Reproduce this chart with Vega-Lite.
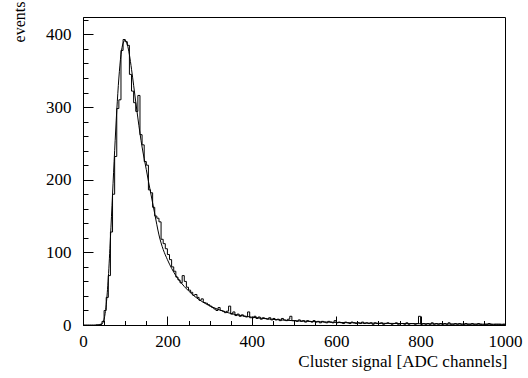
{
  "$schema": "https://vega.github.io/schema/vega-lite/v6.json",
  "width": 422,
  "height": 308,
  "autosize": "none",
  "padding": {"left": 83, "top": 17, "right": 23, "bottom": 53},
  "background": "white",
  "config": {
    "view": {"stroke": "black", "strokeWidth": 1},
    "font": "Liberation Serif",
    "axis": {"labelFont": "Liberation Serif", "titleFont": "Liberation Serif"},
    "style": {"guide-label": {"font": "Liberation Serif"}, "guide-title": {"font": "Liberation Serif"}}
  },
  "datasets": {
    "hist": [
      {"v":0,"n":0},{"v":5,"n":0},{"v":10,"n":0},{"v":15,"n":0},{"v":20,"n":0},{"v":25,"n":0},{"v":30,"n":0},{"v":35,"n":0},
      {"v":40,"n":1},{"v":45,"n":5},{"v":50,"n":20},{"v":55,"n":38},{"v":60,"n":68},{"v":65,"n":128},{"v":70,"n":180},{"v":75,"n":232},
      {"v":80,"n":298},{"v":85,"n":310},{"v":90,"n":378},{"v":95,"n":393},{"v":100,"n":390},{"v":105,"n":385},{"v":110,"n":345},{"v":115,"n":322},
      {"v":120,"n":306},{"v":125,"n":294},{"v":130,"n":316},{"v":135,"n":262},{"v":140,"n":248},{"v":145,"n":225},{"v":150,"n":220},{"v":155,"n":186},
      {"v":160,"n":182},{"v":165,"n":162},{"v":170,"n":150},{"v":175,"n":147},{"v":180,"n":142},{"v":185,"n":118},{"v":190,"n":112},{"v":195,"n":105},
      {"v":200,"n":97},{"v":205,"n":90},{"v":210,"n":80},{"v":215,"n":74},{"v":220,"n":66},{"v":225,"n":62},{"v":230,"n":58},{"v":235,"n":68},
      {"v":240,"n":60},{"v":245,"n":52},{"v":250,"n":48},{"v":255,"n":45},{"v":260,"n":41},{"v":265,"n":42},{"v":270,"n":38},{"v":275,"n":34},
      {"v":280,"n":36},{"v":285,"n":31},{"v":290,"n":30},{"v":295,"n":28},{"v":300,"n":26},{"v":305,"n":24},{"v":310,"n":22},{"v":315,"n":20},
      {"v":320,"n":24},{"v":325,"n":20},{"v":330,"n":19},{"v":335,"n":17},{"v":340,"n":19},{"v":345,"n":26},{"v":350,"n":15},{"v":355,"n":18},
      {"v":360,"n":13},{"v":365,"n":15},{"v":370,"n":12},{"v":375,"n":14},{"v":380,"n":12},{"v":385,"n":11},{"v":390,"n":18},{"v":395,"n":10},
      {"v":400,"n":10},{"v":405,"n":12},{"v":410,"n":9},{"v":415,"n":11},{"v":420,"n":8},{"v":425,"n":10},{"v":430,"n":9},{"v":435,"n":8},
      {"v":440,"n":10},{"v":445,"n":7},{"v":450,"n":9},{"v":455,"n":7},{"v":460,"n":8},{"v":465,"n":6},{"v":470,"n":9},{"v":475,"n":7},
      {"v":480,"n":6},{"v":485,"n":8},{"v":490,"n":12},{"v":495,"n":6},{"v":500,"n":6},{"v":505,"n":5},{"v":510,"n":7},{"v":515,"n":5},
      {"v":520,"n":6},{"v":525,"n":4},{"v":530,"n":6},{"v":535,"n":5},{"v":540,"n":4},{"v":545,"n":6},{"v":550,"n":4},{"v":555,"n":5},
      {"v":560,"n":3},{"v":565,"n":5},{"v":570,"n":4},{"v":575,"n":3},{"v":580,"n":5},{"v":585,"n":4},{"v":590,"n":3},{"v":595,"n":6},
      {"v":600,"n":3},{"v":605,"n":4},{"v":610,"n":3},{"v":615,"n":2},{"v":620,"n":4},{"v":625,"n":3},{"v":630,"n":2},{"v":635,"n":4},
      {"v":640,"n":3},{"v":645,"n":2},{"v":650,"n":3},{"v":655,"n":2},{"v":660,"n":4},{"v":665,"n":2},{"v":670,"n":3},{"v":675,"n":2},
      {"v":680,"n":3},{"v":685,"n":1},{"v":690,"n":3},{"v":695,"n":2},{"v":700,"n":2},{"v":705,"n":3},{"v":710,"n":1},{"v":715,"n":2},
      {"v":720,"n":3},{"v":725,"n":2},{"v":730,"n":1},{"v":735,"n":2},{"v":740,"n":3},{"v":745,"n":1},{"v":750,"n":2},{"v":755,"n":2},
      {"v":760,"n":1},{"v":765,"n":3},{"v":770,"n":1},{"v":775,"n":2},{"v":780,"n":2},{"v":785,"n":1},{"v":790,"n":2},{"v":795,"n":12},
      {"v":800,"n":1},{"v":805,"n":2},{"v":810,"n":1},{"v":815,"n":2},{"v":820,"n":1},{"v":825,"n":3},{"v":830,"n":1},{"v":835,"n":2},
      {"v":840,"n":1},{"v":845,"n":2},{"v":850,"n":1},{"v":855,"n":2},{"v":860,"n":1},{"v":865,"n":3},{"v":870,"n":1},{"v":875,"n":1},
      {"v":880,"n":2},{"v":885,"n":1},{"v":890,"n":2},{"v":895,"n":1},{"v":900,"n":1},{"v":905,"n":2},{"v":910,"n":1},{"v":915,"n":1},
      {"v":920,"n":2},{"v":925,"n":1},{"v":930,"n":1},{"v":935,"n":2},{"v":940,"n":1},{"v":945,"n":0},{"v":950,"n":1},{"v":955,"n":1},
      {"v":960,"n":2},{"v":965,"n":1},{"v":970,"n":0},{"v":975,"n":1},{"v":980,"n":1},{"v":985,"n":1},{"v":990,"n":0},{"v":995,"n":1},
      {"v":1000,"n":1}
    ],
    "fit": [
      {"v":30,"f":0},{"v":40,"f":0.3},{"v":45,"f":1.5},{"v":50,"f":8},{"v":55,"f":28},{"v":60,"f":65},{"v":65,"f":120},{"v":70,"f":180},
      {"v":75,"f":240},{"v":80,"f":295},{"v":85,"f":340},{"v":90,"f":372},{"v":95,"f":388},{"v":100,"f":392},{"v":105,"f":386},{"v":110,"f":372},
      {"v":115,"f":352},{"v":120,"f":330},{"v":125,"f":307},{"v":130,"f":285},{"v":135,"f":264},{"v":140,"f":245},{"v":145,"f":229},{"v":150,"f":214},
      {"v":155,"f":198},{"v":160,"f":183},{"v":165,"f":168},{"v":170,"f":153},{"v":175,"f":138},{"v":180,"f":124},{"v":185,"f":113},{"v":190,"f":104},
      {"v":200,"f":90},{"v":210,"f":78},{"v":220,"f":68},{"v":230,"f":60},{"v":240,"f":53},{"v":250,"f":47},{"v":260,"f":41.5},{"v":270,"f":37},
      {"v":280,"f":33},{"v":290,"f":29.5},{"v":300,"f":26.5},{"v":320,"f":21.5},{"v":340,"f":17.5},{"v":360,"f":14.5},{"v":380,"f":12.5},{"v":400,"f":10.8},
      {"v":450,"f":7.8},{"v":500,"f":5.9},{"v":550,"f":4.6},{"v":600,"f":3.6},{"v":650,"f":2.9},{"v":700,"f":2.4},{"v":800,"f":1.7},{"v":900,"f":1.3},
      {"v":1000,"f":1.0}
    ]
  },
  "resolve": {"axis": {"x": "independent", "y": "independent"}},
  "layer": [
    {
      "data": {"name": "hist"},
      "mark": {"type": "line", "interpolate": "step-after", "color": "black", "strokeWidth": 1, "clip": true},
      "encoding": {
        "x": {
          "field": "v", "type": "quantitative",
          "scale": {"domain": [0, 1000], "nice": false, "zero": false},
          "axis": {
            "orient": "bottom",
            "title": "Cluster signal [ADC channels]",
            "values": [0,200,400,600,800,1000],
            "format": "d",
            "grid": false,
            "domainColor": "black",
            "tickColor": "black",
            "tickSize": -9,
            "labelPadding": 17,
            "labelFont": "Times New Roman",
            "labelFontSize": 17,
            "labelFontWeight": "normal",
            "labelColor": "black",
            "labelFlush": false,
            "labelOverlap": false,
            "titleFont": "Times New Roman",
            "titleFontSize": 17,
            "titleFontWeight": "normal",
            "titleColor": "black",
            "titleAnchor": "end",
            "titleAlign": "right",
            "titleBaseline": "alphabetic",
            "titleX": 424,
            "titleY": 41
          }
        },
        "y": {
          "field": "n", "type": "quantitative",
          "scale": {"domain": [0, 424], "nice": false},
          "axis": {
            "orient": "left",
            "title": "events",
            "values": [0,100,200,300,400],
            "format": "d",
            "grid": false,
            "domainColor": "black",
            "tickColor": "black",
            "tickSize": -10,
            "labelPadding": 22,
            "labelFont": "Times New Roman",
            "labelFontSize": 17,
            "labelFontWeight": "normal",
            "labelColor": "black",
            "labelFlush": false,
            "labelOverlap": false,
            "titleFont": "Times New Roman",
            "titleFontSize": 16,
            "titleFontWeight": "normal",
            "titleColor": "black",
            "titleAngle": -90,
            "titleAnchor": "end",
            "titleAlign": "right",
            "titleBaseline": "middle",
            "titleX": -64,
            "titleY": -16
          }
        }
      }
    },
    {
      "data": {"name": "fit"},
      "mark": {"type": "line", "interpolate": "monotone", "color": "black", "strokeWidth": 1, "clip": true},
      "encoding": {
        "x": {
          "field": "v", "type": "quantitative",
          "axis": {
            "orient": "bottom",
            "title": null,
            "values": [50,100,150,250,300,350,450,500,550,650,700,750,850,900,950],
            "labels": false,
            "domain": false,
            "grid": false,
            "tickColor": "black",
            "tickSize": -4.5
          }
        },
        "y": {
          "field": "f", "type": "quantitative",
          "axis": {
            "orient": "left",
            "title": null,
            "values": [20,40,60,80,120,140,160,180,220,240,260,280,320,340,360,380,420],
            "labels": false,
            "domain": false,
            "grid": false,
            "tickColor": "black",
            "tickSize": -5
          }
        }
      }
    }
  ]
}
